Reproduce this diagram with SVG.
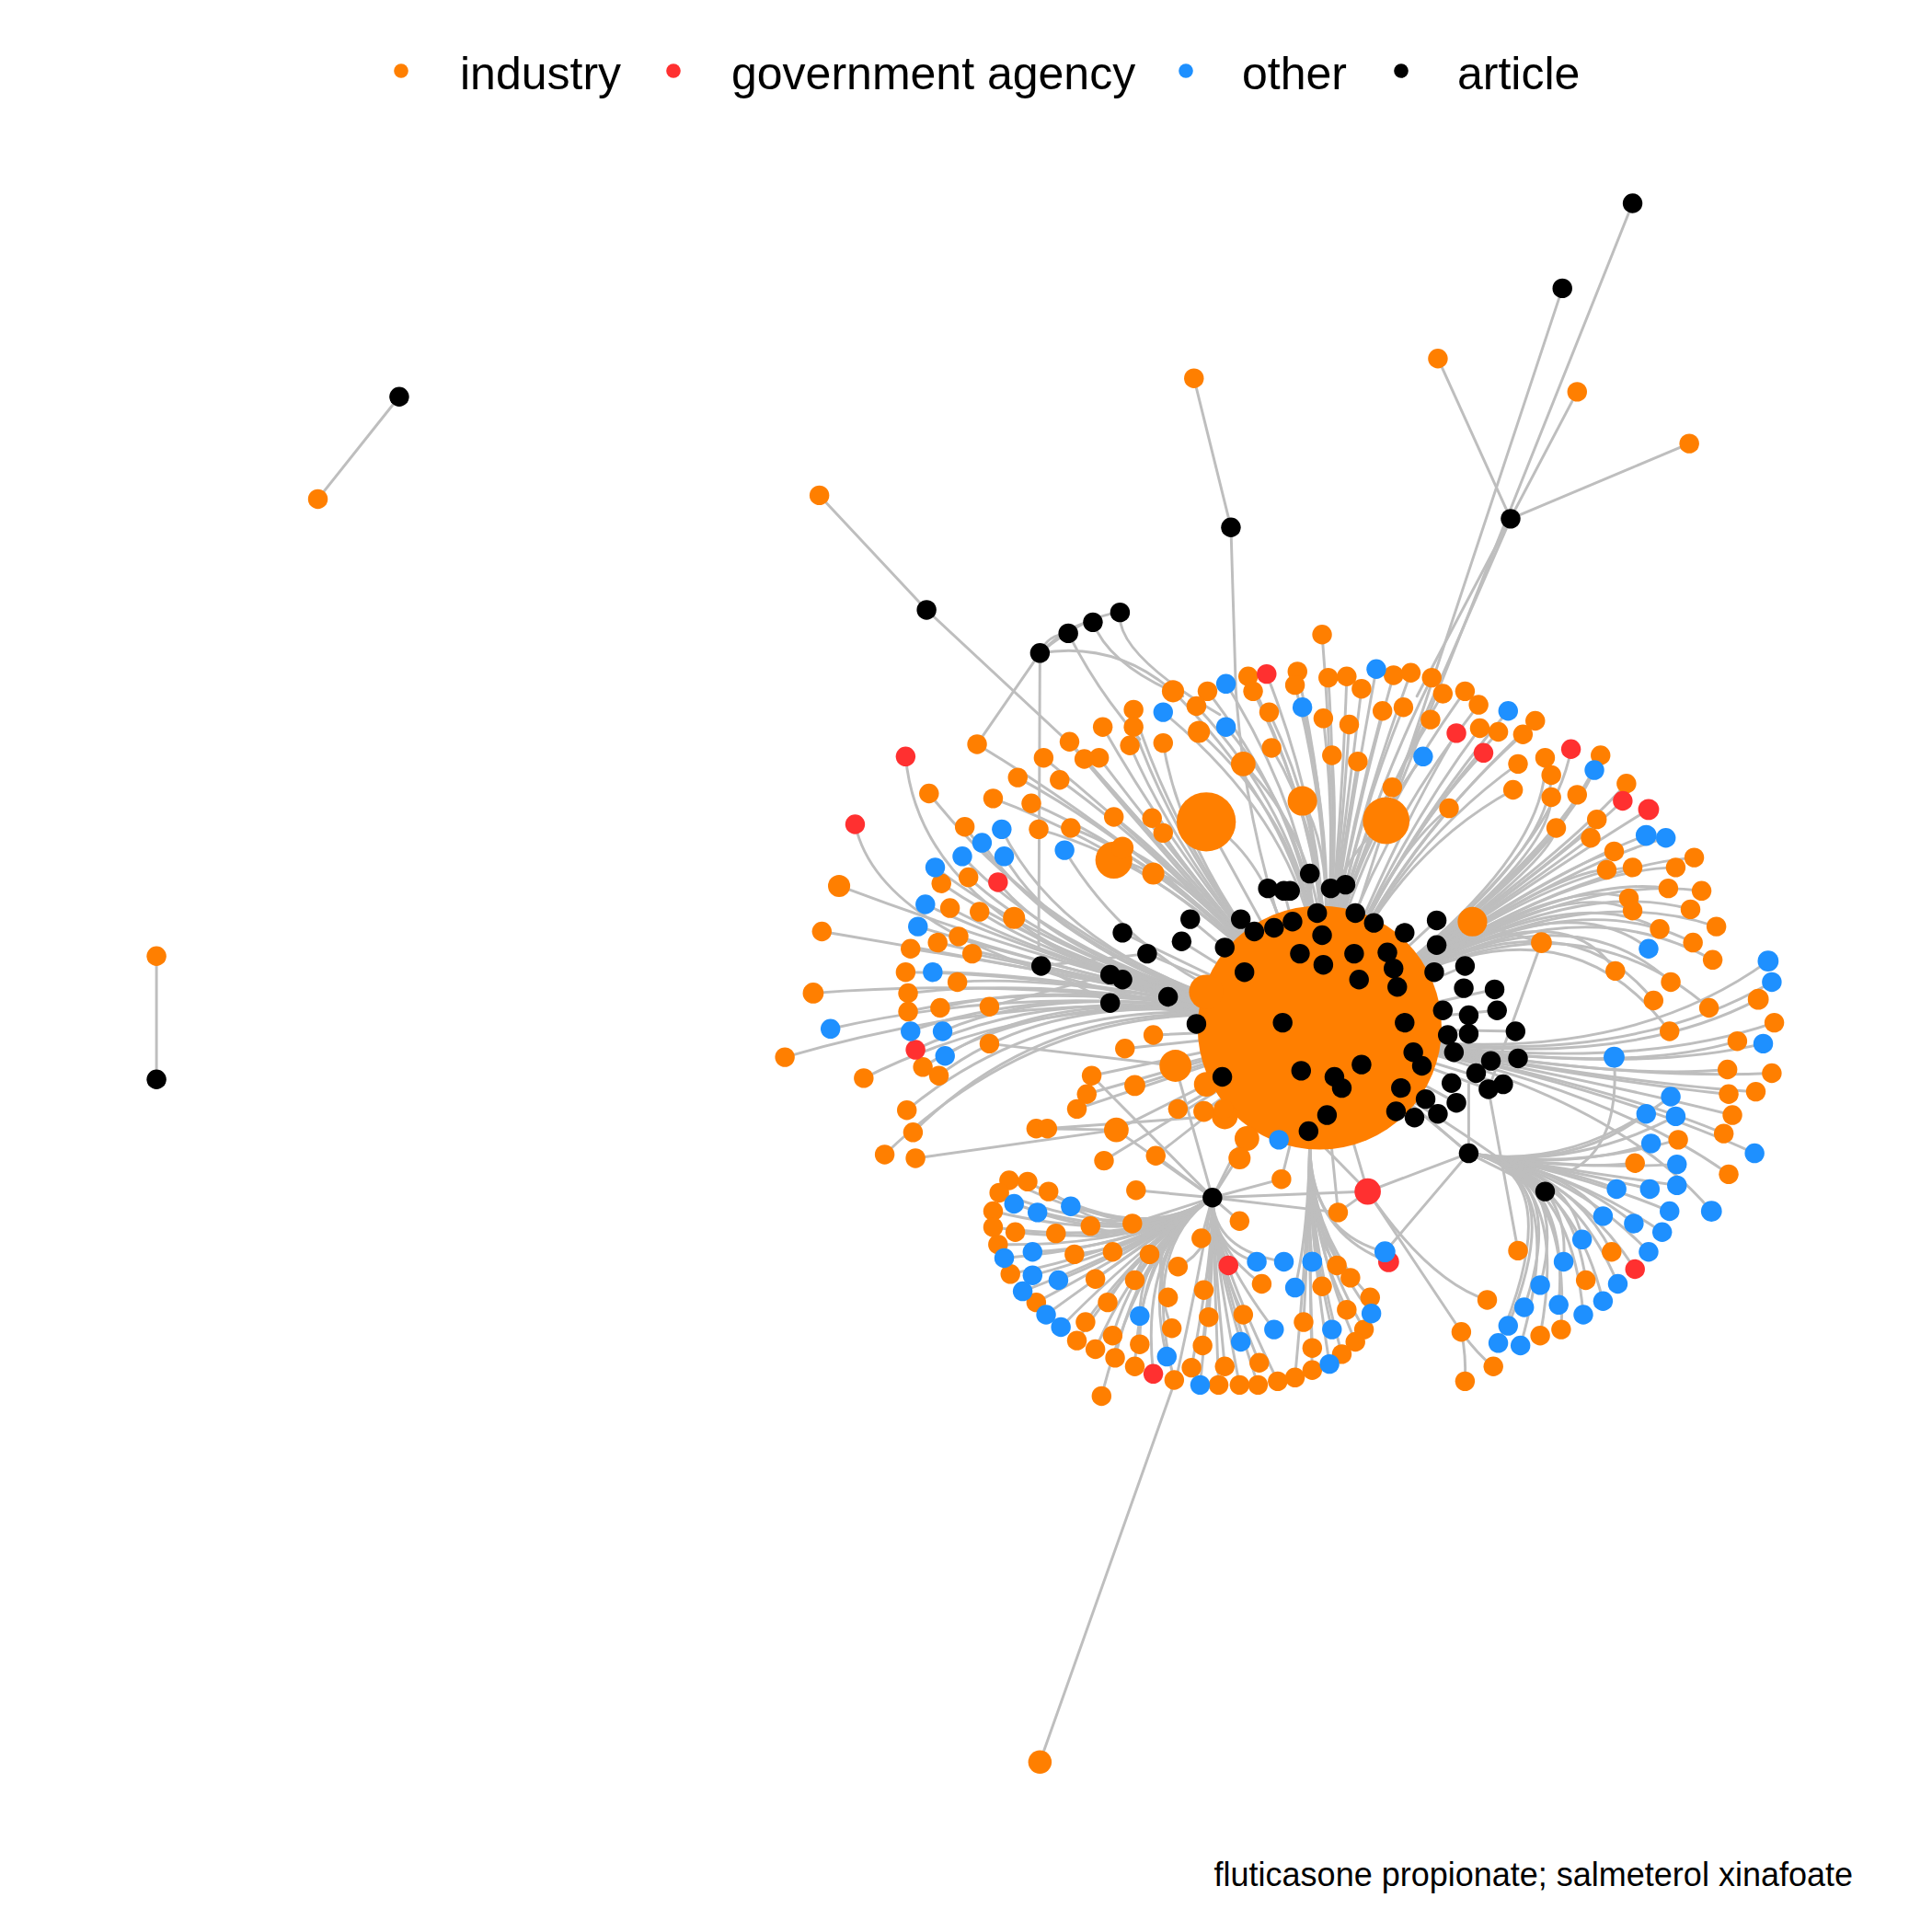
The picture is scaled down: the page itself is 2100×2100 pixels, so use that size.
<svg xmlns="http://www.w3.org/2000/svg" width="2100" height="2100" viewBox="0 0 2100 2100">
<style>
.o{fill:#FF7F00}.r{fill:#FF3030}.b{fill:#1E90FF}.k{fill:#000}
#edges path{fill:none;stroke:#BEBEBE;stroke-width:2.2;stroke-linecap:round}
.lg{font-family:"Liberation Sans",Arial,sans-serif;font-size:50px;fill:#000}
.cap{font-family:"Liberation Sans",Arial,sans-serif;font-size:36px;fill:#000}
</style>
<rect width="2100" height="2100" fill="#fff"/>
<g id="legend">
<circle class="o" cx="436" cy="77" r="7.8"/><text class="lg" x="500" y="97">industry</text>
<circle class="r" cx="732" cy="77" r="7.8"/><text class="lg" x="795" y="97">government agency</text>
<circle class="b" cx="1289" cy="77" r="7.8"/><text class="lg" x="1350" y="97">other</text>
<circle class="k" cx="1523" cy="77" r="7.8"/><text class="lg" x="1584" y="97">article</text>
</g>
<text class="cap" x="2014" y="2050" text-anchor="end">fluticasone propionate; salmeterol xinafoate</text>
<g transform="scale(1.339286)">
<g id="edges">
<path d="M258 405L324 322"/><path d="M127 776L127 876"/>
<path d="M1325 165L1125 666"/><path d="M1268 234L1125 666"/><path d="M1167 291L1226 421"/><path d="M1371 360L1226 421"/><path d="M1226 421L1135 630"/><path d="M1280 318L1150 565"/>
<path d="M969 307L999 428"/><path d="M999 428L1003 560Q1012 700 1071 834"/>
<path d="M665 402L752 495"/><path d="M752 495L870 605Q950 700 1071 834"/>
<path d="M844 530Q850 515 867 514"/><path d="M844 530Q870 505 887 505"/><path d="M844 530Q880 500 909 497"/><path d="M844 530L843 770"/><path d="M844 530L793 604"/><path d="M844 530Q905 520 952 561"/><path d="M887 505Q900 540 960 565"/><path d="M909 497Q905 530 990 580"/><path d="M867 514Q890 560 925 600"/>
<path d="M844 1430L955 1117Q972 1040 984 972"/>
<path d="M1073 515Q1088 700 1071 834"/><path d="M1053 545Q1088 700 1071 834"/><path d="M1078 550Q1088 700 1071 834"/><path d="M1093 549Q1088 700 1071 834"/><path d="M1105 559Q1088 700 1071 834"/><path d="M1131 548Q1088 700 1071 834"/><path d="M1145 546Q1088 700 1071 834"/><path d="M1162 550Q1088 700 1071 834"/><path d="M1171 563Q1088 700 1071 834"/><path d="M1189 561Q1088 700 1071 834"/><path d="M1200 572Q1100 700 1071 834"/><path d="M1074 583Q1088 700 1071 834"/><path d="M1095 588Q1088 700 1071 834"/><path d="M1081 613Q1088 700 1071 834"/><path d="M1102 618Q1088 700 1071 834"/><path d="M1122 577Q1088 700 1071 834"/><path d="M1139 574Q1088 700 1071 834"/><path d="M1161 584Q1088 700 1071 834"/><path d="M1051 556Q1088 700 1071 834"/><path d="M1013 549Q1088 700 1071 834"/><path d="M1017 561Q1088 700 1071 834"/><path d="M1030 578Q1088 700 1071 834"/><path d="M1032 607Q1088 700 1071 834"/><path d="M1009 620Q1088 700 1071 834"/><path d="M952 561Q1080 690 1071 834"/><path d="M980 561Q1080 690 1071 834"/><path d="M971 573Q1080 690 1071 834"/><path d="M973 594Q1080 690 1071 834"/><path d="M1028 547Q1088 700 1071 834"/><path d="M1117 543Q1088 700 1071 834"/><path d="M1057 574Q1088 700 1071 834"/><path d="M1155 614Q1088 700 1071 834"/><path d="M995 555Q1080 690 1071 834"/><path d="M995 590Q1080 690 1071 834"/><path d="M944 578Q1080 690 1071 834"/><path d="M1130 639Q1088 700 1071 834"/><path d="M1057 650Q1088 700 1071 834"/><path d="M979 667L1071 834"/><path d="M1125 666L1071 834"/><path d="M1125 666Q1060 720 1071 834"/><path d="M979 667Q1040 700 1060 834"/>
<path d="M1246 585Q1120 700 1071 834"/><path d="M1236 596Q1120 700 1071 834"/><path d="M1216 594Q1120 700 1071 834"/><path d="M1201 591Q1120 700 1071 834"/><path d="M1182 595Q1120 700 1071 834"/><path d="M1204 611Q1120 700 1071 834"/><path d="M1224 577Q1120 700 1071 834"/><path d="M1232 620Q1120 700 1071 834"/><path d="M1228 641Q1120 700 1071 834"/><path d="M1176 656Q1120 700 1071 834"/>
<path d="M1299 613Q1258 706 1071 834"/><path d="M1254 615Q1258 706 1071 834"/><path d="M1259 629Q1258 706 1071 834"/><path d="M1259 647Q1258 706 1071 834"/><path d="M1280 645Q1258 706 1071 834"/><path d="M1263 672Q1258 706 1071 834"/><path d="M1320 636Q1258 706 1071 834"/><path d="M1296 665Q1258 706 1071 834"/><path d="M1291 680Q1258 706 1071 834"/><path d="M1310 691Q1258 706 1071 834"/><path d="M1375 696Q1258 706 1071 834"/><path d="M1360 704Q1258 706 1071 834"/><path d="M1325 704Q1258 706 1071 834"/><path d="M1304 706Q1258 706 1071 834"/><path d="M1354 721Q1258 706 1071 834"/><path d="M1381 723Q1258 706 1071 834"/><path d="M1322 729Q1258 706 1071 834"/><path d="M1325 739Q1258 706 1071 834"/><path d="M1372 738Q1258 706 1071 834"/><path d="M1393 752Q1258 706 1071 834"/><path d="M1347 754Q1258 706 1071 834"/><path d="M1374 765Q1258 706 1071 834"/><path d="M1390 779Q1258 706 1071 834"/><path d="M1311 788Q1258 706 1071 834"/><path d="M1356 797Q1258 706 1071 834"/><path d="M1342 812Q1258 706 1071 834"/><path d="M1387 818Q1258 706 1071 834"/><path d="M1355 837Q1258 706 1071 834"/><path d="M1275 608Q1258 706 1071 834"/><path d="M1317 650Q1258 706 1071 834"/><path d="M1338 657Q1258 706 1071 834"/><path d="M1294 625Q1258 706 1071 834"/><path d="M1336 678Q1258 706 1071 834"/><path d="M1352 680Q1258 706 1071 834"/><path d="M1338 770Q1258 706 1071 834"/><path d="M1195 748L1071 834"/><path d="M1195 748L1251 765"/><path d="M1251 765L1208 884"/>
<path d="M1427 811Q1300 878 1071 834"/><path d="M1440 830Q1300 878 1071 834"/><path d="M1410 845Q1300 878 1071 834"/><path d="M1402 868Q1300 878 1071 834"/><path d="M1438 871Q1300 878 1071 834"/><path d="M1425 886Q1300 878 1071 834"/><path d="M1403 888Q1300 878 1071 834"/><path d="M1406 905Q1300 878 1071 834"/><path d="M1399 920Q1300 878 1071 834"/><path d="M1403 953Q1300 878 1071 834"/><path d="M1435 780Q1300 878 1071 834"/><path d="M1438 797Q1300 878 1071 834"/><path d="M1431 847Q1300 878 1071 834"/><path d="M1424 936Q1300 878 1071 834"/><path d="M1389 983Q1300 878 1071 834"/>
<path d="M1356 890Q1275 950 1192 936"/><path d="M1336 904Q1275 950 1192 936"/><path d="M1360 906Q1275 950 1192 936"/><path d="M1340 928Q1275 950 1192 936"/><path d="M1362 925Q1275 950 1192 936"/><path d="M1327 944Q1275 950 1192 936"/><path d="M1361 945Q1275 950 1192 936"/><path d="M1312 965Q1275 950 1192 936"/><path d="M1339 965Q1275 950 1192 936"/><path d="M1361 962Q1275 950 1192 936"/><path d="M1355 983Q1275 950 1192 936"/><path d="M1301 987Q1275 950 1192 936"/><path d="M1326 993Q1275 950 1192 936"/><path d="M1349 1000Q1275 950 1192 936"/><path d="M1284 1006Q1275 950 1192 936"/><path d="M1308 1016Q1275 950 1192 936"/><path d="M1338 1016Q1275 950 1192 936"/><path d="M1269 1024Q1275 950 1192 936"/><path d="M1327 1030Q1275 950 1192 936"/><path d="M1250 1043Q1275 950 1192 936"/><path d="M1287 1039Q1275 950 1192 936"/><path d="M1313 1042Q1275 950 1192 936"/><path d="M1237 1061Q1275 950 1192 936"/><path d="M1265 1059Q1275 950 1192 936"/><path d="M1301 1056Q1275 950 1192 936"/><path d="M1224 1076Q1275 950 1192 936"/><path d="M1285 1067Q1275 950 1192 936"/><path d="M1267 1079Q1275 950 1192 936"/><path d="M1250 1084Q1275 950 1192 936"/><path d="M1216 1090Q1275 950 1192 936"/><path d="M1234 1092Q1275 950 1192 936"/><path d="M1310 858Q1315 930 1275 950"/><path d="M1192 936L1071 834"/><path d="M1192 936Q1150 900 1071 834"/>
<path d="M681 719Q870 790 1071 834"/><path d="M667 756Q870 790 1071 834"/><path d="M660 806Q870 790 1071 834"/><path d="M637 858Q870 790 1071 834"/><path d="M701 875Q870 790 1071 834"/><path d="M754 644Q870 790 1071 834"/><path d="M783 671Q870 790 1071 834"/><path d="M764 717Q870 790 1071 834"/><path d="M786 712Q870 790 1071 834"/><path d="M771 737Q870 790 1071 834"/><path d="M795 740Q870 790 1071 834"/><path d="M823 745Q870 790 1071 834"/><path d="M778 760Q870 790 1071 834"/><path d="M761 765Q870 790 1071 834"/><path d="M739 770Q870 790 1071 834"/><path d="M789 774Q870 790 1071 834"/><path d="M735 789Q870 790 1071 834"/><path d="M777 797Q870 790 1071 834"/><path d="M737 806Q870 790 1071 834"/><path d="M763 818Q870 790 1071 834"/><path d="M737 821Q870 790 1071 834"/><path d="M749 866Q870 790 1071 834"/><path d="M762 873Q870 790 1071 834"/><path d="M736 901Q870 790 1071 834"/><path d="M741 919Q870 790 1071 834"/><path d="M718 937Q870 790 1071 834"/><path d="M735 614Q750 780 1071 834"/><path d="M694 669Q720 790 1071 834"/><path d="M810 716Q870 790 1071 834"/><path d="M743 852Q870 790 1071 834"/><path d="M759 704Q870 790 1071 834"/><path d="M781 695Q870 790 1071 834"/><path d="M797 684Q870 790 1071 834"/><path d="M813 673Q870 790 1071 834"/><path d="M815 695Q870 790 1071 834"/><path d="M751 734Q870 790 1071 834"/><path d="M745 752Q870 790 1071 834"/><path d="M757 789Q870 790 1071 834"/><path d="M739 837Q870 790 1071 834"/><path d="M765 837Q870 790 1071 834"/><path d="M767 857Q870 790 1071 834"/><path d="M674 835Q870 790 1071 834"/>
<path d="M793 604Q960 705 1071 834"/><path d="M806 648Q960 705 1071 834"/><path d="M826 631Q960 705 1071 834"/><path d="M837 652Q960 705 1071 834"/><path d="M847 615Q960 705 1071 834"/><path d="M860 633Q960 705 1071 834"/><path d="M868 602Q960 705 1071 834"/><path d="M880 616Q960 705 1071 834"/><path d="M892 615Q960 705 1071 834"/><path d="M895 590Q960 705 1071 834"/><path d="M920 576Q960 705 1071 834"/><path d="M920 590Q960 705 1071 834"/><path d="M917 605Q960 705 1071 834"/><path d="M944 603Q960 705 1071 834"/><path d="M843 673Q960 705 1071 834"/><path d="M869 672Q960 705 1071 834"/><path d="M904 663Q960 705 1071 834"/><path d="M935 664Q960 705 1071 834"/><path d="M944 676Q960 705 1071 834"/><path d="M864 690Q930 800 1071 834"/><path d="M911 688Q960 705 1071 834"/><path d="M904 698Q960 705 1071 834"/><path d="M936 709Q960 705 1071 834"/>
<path d="M936 840L1071 834"/><path d="M913 851L1071 834"/><path d="M921 881L1071 834"/><path d="M886 873L1071 834"/><path d="M882 888L1071 834"/><path d="M874 900L1071 834"/><path d="M956 900L1071 834"/><path d="M977 902L1071 834"/><path d="M993 900L1071 834"/><path d="M906 917L1071 834"/><path d="M896 942L1071 834"/><path d="M938 938L1071 834"/><path d="M954 865L1071 834"/><path d="M922 966L984 972"/><path d="M1007 932L1071 834"/><path d="M1040 957L1071 834"/><path d="M1086 984L1071 834"/><path d="M1006 991L984 972"/><path d="M975 1005L984 972"/><path d="M919 993L984 972"/><path d="M803 817L901 791"/><path d="M803 847L954 865"/><path d="M743 940L906 917"/><path d="M841 916L906 917"/><path d="M849 916L1000 905"/><path d="M886 873L984 972"/><path d="M906 917L984 972"/><path d="M938 938L984 972"/><path d="M954 865L984 972"/><path d="M1040 957L984 972"/><path d="M984 972L1071 834"/><path d="M984 972L1040 860"/><path d="M984 972L1110 967"/><path d="M984 972L1086 984"/><path d="M1110 967L1071 834"/><path d="M1110 967L1192 936"/><path d="M1110 967L1186 1081"/><path d="M1186 1081Q1200 1100 1212 1109"/><path d="M1186 1081Q1190 1100 1189 1121"/><path d="M1110 967Q1160 1040 1207 1055"/><path d="M1232 1015L1208 884"/><path d="M1254 967L1192 936"/><path d="M1254 967Q1190 920 1140 890"/><path d="M1192 936L1124 1016"/><path d="M1192 936L1192 880"/><path d="M1086 984L1110 967"/><path d="M1038 925L1071 834"/><path d="M1062 918L1110 967"/>
<path d="M845 784L1071 834"/><path d="M911 757L1071 834"/><path d="M931 774L1071 834"/><path d="M959 764L1071 834"/><path d="M966 746L1071 834"/><path d="M901 791L1071 834"/><path d="M911 795L1071 834"/><path d="M901 814L1071 834"/><path d="M948 809L1071 834"/><path d="M1007 746L1071 834"/><path d="M1029 721L1071 834"/><path d="M1042 723L1071 834"/><path d="M1063 709L1071 834"/><path d="M1080 721L1071 834"/><path d="M1092 718L1071 834"/><path d="M1166 747L1071 834"/><path d="M1189 784L1071 834"/><path d="M1213 803L1071 834"/><path d="M1215 820L1071 834"/><path d="M1230 837L1071 834"/><path d="M1232 859L1071 834"/><path d="M1220 880L1071 834"/><path d="M1208 884L1071 834"/><path d="M1182 895L1071 834"/><path d="M1167 904L1071 834"/><path d="M1148 907L1071 834"/><path d="M1133 902L1071 834"/><path d="M845 784L931 774"/><path d="M845 784L901 814"/>
<path d="M819 958Q925 1012 984 972"/><path d="M834 959Q925 1012 984 972"/><path d="M851 967Q925 1012 984 972"/><path d="M811 968Q925 1012 984 972"/><path d="M885 995Q925 1012 984 972"/><path d="M806 983Q925 1012 984 972"/><path d="M806 996Q925 1012 984 972"/><path d="M824 1000Q925 1012 984 972"/><path d="M857 1001Q925 1012 984 972"/><path d="M810 1010Q925 1012 984 972"/><path d="M872 1018Q925 1012 984 972"/><path d="M903 1016Q925 1012 984 972"/><path d="M933 1018Q925 1012 984 972"/><path d="M820 1034Q925 1012 984 972"/><path d="M889 1038Q925 1012 984 972"/><path d="M921 1039Q925 1012 984 972"/><path d="M841 1057Q925 1012 984 972"/><path d="M899 1057Q925 1012 984 972"/><path d="M881 1073Q925 1012 984 972"/><path d="M903 1084Q925 1012 984 972"/><path d="M925 1091Q925 1012 984 972"/><path d="M874 1088Q925 1012 984 972"/><path d="M889 1095Q925 1012 984 972"/><path d="M905 1102Q925 1012 984 972"/><path d="M921 1109Q925 1012 984 972"/><path d="M894 1133Q925 1012 984 972"/><path d="M823 977Q925 1012 984 972"/><path d="M842 984Q925 1012 984 972"/><path d="M869 979Q925 1012 984 972"/><path d="M815 1021Q925 1012 984 972"/><path d="M838 1016Q925 1012 984 972"/><path d="M838 1035Q925 1012 984 972"/><path d="M859 1039Q925 1012 984 972"/><path d="M830 1048Q925 1012 984 972"/><path d="M849 1067Q925 1012 984 972"/><path d="M861 1077Q925 1012 984 972"/><path d="M925 1068Q925 1012 984 972"/><path d="M947 1101Q925 1012 984 972"/><path d="M936 1115Q925 1012 984 972"/><path d="M948 1053Q925 1012 984 972"/><path d="M951 1078Q925 1012 984 972"/><path d="M953 1120Q925 1012 984 972"/>
<path d="M956 1028Q985 1015 984 972"/><path d="M977 1047Q985 1015 984 972"/><path d="M981 1069Q985 1015 984 972"/><path d="M967 1110Q985 1015 984 972"/><path d="M976 1092Q985 1015 984 972"/><path d="M994 1109Q985 1015 984 972"/><path d="M989 1124Q985 1015 984 972"/><path d="M1006 1124Q985 1015 984 972"/><path d="M1021 1124Q985 1015 984 972"/><path d="M1037 1121Q985 1015 984 972"/><path d="M1022 1106Q985 1015 984 972"/><path d="M1009 1067Q985 1015 984 972"/><path d="M1024 1042Q985 1015 984 972"/><path d="M974 1124Q985 1015 984 972"/><path d="M1007 1089Q985 1015 984 972"/><path d="M1034 1079Q985 1015 984 972"/><path d="M997 1027Q985 1015 984 972"/><path d="M1020 1024Q985 1015 984 972"/><path d="M1042 1024Q985 1015 984 972"/>
<path d="M1065 1024Q1062 1000 1063 925"/><path d="M1085 1027Q1062 1000 1063 925"/><path d="M1096 1037Q1062 1000 1063 925"/><path d="M1073 1044Q1062 1000 1063 925"/><path d="M1051 1045Q1062 1000 1063 925"/><path d="M1112 1053Q1062 1000 1063 925"/><path d="M1113 1066Q1062 1000 1063 925"/><path d="M1093 1063Q1062 1000 1063 925"/><path d="M1058 1073Q1062 1000 1063 925"/><path d="M1081 1079Q1062 1000 1063 925"/><path d="M1107 1079Q1062 1000 1063 925"/><path d="M1100 1089Q1062 1000 1063 925"/><path d="M1065 1094Q1062 1000 1063 925"/><path d="M1089 1099Q1062 1000 1063 925"/><path d="M1079 1107Q1062 1000 1063 925"/><path d="M1065 1112Q1062 1000 1063 925"/><path d="M1051 1118Q1062 1000 1063 925"/><path d="M1124 1016Q1062 1000 1063 925"/><path d="M1127 1024Q1062 1000 1063 925"/>
</g>
<g id="nodes">
<g id="n1"><circle class="o" cx="1071" cy="834" r="99"/></g>
<g id="n2"><circle class="o" cx="979" cy="805" r="14"/></g>
<g id="n3"><circle class="o" cx="979" cy="667" r="24"/></g>
<g id="n4"><circle class="o" cx="1125" cy="666" r="19"/></g>
<g id="n5"><circle class="o" cx="1057" cy="650" r="12"/></g>
<g id="n6"><circle class="o" cx="904" cy="698" r="15"/></g>
<g id="n7"><circle class="o" cx="954" cy="865" r="13"/></g>
<g id="n8"><circle class="o" cx="1195" cy="748" r="12"/></g>
<g id="n9"><circle class="o" cx="979" cy="880" r="10"/></g>
<g id="n10"><circle class="o" cx="994" cy="906" r="10.5"/></g>
<g id="n11"><circle class="o" cx="1012" cy="924" r="10"/></g>
<g id="n12"><circle class="o" cx="1006" cy="940" r="9"/></g>
<g id="n13"><circle class="o" cx="906" cy="917" r="10"/></g>
<g id="n14"><circle class="o" cx="1009" cy="620" r="10"/></g>
<g id="n15"><circle class="o" cx="952" cy="561" r="9"/></g>
<g id="n16"><circle class="o" cx="973" cy="594" r="9"/></g>
<g id="n17"><circle class="o" cx="936" cy="709" r="9"/></g>
<g id="n18"><circle class="o" cx="911" cy="688" r="9"/></g>
<g id="n19"><circle class="o" cx="681" cy="719" r="9"/></g>
<g id="n20"><circle class="o" cx="823" cy="745" r="9"/></g>
<g id="n21"><circle class="o" cx="844" cy="1430" r="9.5"/></g>
<g id="n22"><circle class="o" cx="1073" cy="515" r="8"/></g>
<g id="n23"><circle class="o" cx="1053" cy="545" r="8"/></g>
<g id="n24"><circle class="o" cx="1078" cy="550" r="8"/></g>
<g id="n25"><circle class="o" cx="1093" cy="549" r="8"/></g>
<g id="n26"><circle class="o" cx="1105" cy="559" r="8"/></g>
<g id="n27"><circle class="o" cx="1131" cy="548" r="8"/></g>
<g id="n28"><circle class="o" cx="1145" cy="546" r="8"/></g>
<g id="n29"><circle class="o" cx="1162" cy="550" r="8"/></g>
<g id="n30"><circle class="o" cx="1171" cy="563" r="8"/></g>
<g id="n31"><circle class="o" cx="1189" cy="561" r="8"/></g>
<g id="n32"><circle class="o" cx="1200" cy="572" r="8"/></g>
<g id="n33"><circle class="o" cx="1246" cy="585" r="8"/></g>
<g id="n34"><circle class="o" cx="1236" cy="596" r="8"/></g>
<g id="n35"><circle class="o" cx="1216" cy="594" r="8"/></g>
<g id="n36"><circle class="o" cx="1201" cy="591" r="8"/></g>
<g id="n37"><circle class="o" cx="1299" cy="613" r="8"/></g>
<g id="n38"><circle class="o" cx="1254" cy="615" r="8"/></g>
<g id="n39"><circle class="o" cx="1259" cy="629" r="8"/></g>
<g id="n40"><circle class="o" cx="1232" cy="620" r="8"/></g>
<g id="n41"><circle class="o" cx="1228" cy="641" r="8"/></g>
<g id="n42"><circle class="o" cx="1259" cy="647" r="8"/></g>
<g id="n43"><circle class="o" cx="1280" cy="645" r="8"/></g>
<g id="n44"><circle class="o" cx="1263" cy="672" r="8"/></g>
<g id="n45"><circle class="o" cx="1320" cy="636" r="8"/></g>
<g id="n46"><circle class="o" cx="1296" cy="665" r="8"/></g>
<g id="n47"><circle class="o" cx="1291" cy="680" r="8"/></g>
<g id="n48"><circle class="o" cx="1310" cy="691" r="8"/></g>
<g id="n49"><circle class="o" cx="1375" cy="696" r="8"/></g>
<g id="n50"><circle class="o" cx="1360" cy="704" r="8"/></g>
<g id="n51"><circle class="o" cx="1325" cy="704" r="8"/></g>
<g id="n52"><circle class="o" cx="1304" cy="706" r="8"/></g>
<g id="n53"><circle class="o" cx="1354" cy="721" r="8"/></g>
<g id="n54"><circle class="o" cx="1381" cy="723" r="8"/></g>
<g id="n55"><circle class="o" cx="1322" cy="729" r="8"/></g>
<g id="n56"><circle class="o" cx="1325" cy="739" r="8"/></g>
<g id="n57"><circle class="o" cx="1372" cy="738" r="8"/></g>
<g id="n58"><circle class="o" cx="1393" cy="752" r="8"/></g>
<g id="n59"><circle class="o" cx="1347" cy="754" r="8"/></g>
<g id="n60"><circle class="o" cx="1374" cy="765" r="8"/></g>
<g id="n61"><circle class="o" cx="1390" cy="779" r="8"/></g>
<g id="n62"><circle class="o" cx="1311" cy="788" r="8"/></g>
<g id="n63"><circle class="o" cx="1356" cy="797" r="8"/></g>
<g id="n64"><circle class="o" cx="1342" cy="812" r="8"/></g>
<g id="n65"><circle class="o" cx="1387" cy="818" r="8"/></g>
<g id="n66"><circle class="o" cx="1355" cy="837" r="8"/></g>
<g id="n67"><circle class="o" cx="1427" cy="811" r="8.5"/></g>
<g id="n68"><circle class="o" cx="1440" cy="830" r="8"/></g>
<g id="n69"><circle class="o" cx="1410" cy="845" r="8"/></g>
<g id="n70"><circle class="o" cx="1402" cy="868" r="8"/></g>
<g id="n71"><circle class="o" cx="1438" cy="871" r="8"/></g>
<g id="n72"><circle class="o" cx="1425" cy="886" r="8"/></g>
<g id="n73"><circle class="o" cx="1403" cy="888" r="8"/></g>
<g id="n74"><circle class="o" cx="1406" cy="905" r="8"/></g>
<g id="n75"><circle class="o" cx="1399" cy="920" r="8"/></g>
<g id="n76"><circle class="o" cx="1403" cy="953" r="8"/></g>
<g id="n77"><circle class="o" cx="1362" cy="925" r="8"/></g>
<g id="n78"><circle class="o" cx="1327" cy="944" r="8"/></g>
<g id="n79"><circle class="o" cx="1251" cy="765" r="8.5"/></g>
<g id="n80"><circle class="o" cx="1130" cy="639" r="8"/></g>
<g id="n81"><circle class="o" cx="1074" cy="583" r="8"/></g>
<g id="n82"><circle class="o" cx="1095" cy="588" r="8"/></g>
<g id="n83"><circle class="o" cx="1081" cy="613" r="8"/></g>
<g id="n84"><circle class="o" cx="1102" cy="618" r="8"/></g>
<g id="n85"><circle class="o" cx="1122" cy="577" r="8"/></g>
<g id="n86"><circle class="o" cx="1139" cy="574" r="8"/></g>
<g id="n87"><circle class="o" cx="1161" cy="584" r="8"/></g>
<g id="n88"><circle class="o" cx="1051" cy="556" r="8"/></g>
<g id="n89"><circle class="o" cx="1176" cy="656" r="8"/></g>
<g id="n90"><circle class="o" cx="1013" cy="549" r="8"/></g>
<g id="n91"><circle class="o" cx="1017" cy="561" r="8"/></g>
<g id="n92"><circle class="o" cx="1030" cy="578" r="8"/></g>
<g id="n93"><circle class="o" cx="1032" cy="607" r="8"/></g>
<g id="n94"><circle class="o" cx="980" cy="561" r="8"/></g>
<g id="n95"><circle class="o" cx="971" cy="573" r="8"/></g>
<g id="n96"><circle class="o" cx="920" cy="576" r="8"/></g>
<g id="n97"><circle class="o" cx="920" cy="590" r="8"/></g>
<g id="n98"><circle class="o" cx="917" cy="605" r="8"/></g>
<g id="n99"><circle class="o" cx="944" cy="603" r="8"/></g>
<g id="n100"><circle class="o" cx="895" cy="590" r="8"/></g>
<g id="n101"><circle class="o" cx="892" cy="615" r="8"/></g>
<g id="n102"><circle class="o" cx="880" cy="616" r="8"/></g>
<g id="n103"><circle class="o" cx="868" cy="602" r="8"/></g>
<g id="n104"><circle class="o" cx="847" cy="615" r="8"/></g>
<g id="n105"><circle class="o" cx="860" cy="633" r="8"/></g>
<g id="n106"><circle class="o" cx="826" cy="631" r="8"/></g>
<g id="n107"><circle class="o" cx="793" cy="604" r="8"/></g>
<g id="n108"><circle class="o" cx="806" cy="648" r="8"/></g>
<g id="n109"><circle class="o" cx="837" cy="652" r="8"/></g>
<g id="n110"><circle class="o" cx="843" cy="673" r="8"/></g>
<g id="n111"><circle class="o" cx="869" cy="672" r="8"/></g>
<g id="n112"><circle class="o" cx="904" cy="663" r="8"/></g>
<g id="n113"><circle class="o" cx="935" cy="664" r="8"/></g>
<g id="n114"><circle class="o" cx="944" cy="676" r="8"/></g>
<g id="n115"><circle class="o" cx="969" cy="307" r="8"/></g>
<g id="n116"><circle class="o" cx="665" cy="402" r="8"/></g>
<g id="n117"><circle class="o" cx="1167" cy="291" r="8"/></g>
<g id="n118"><circle class="o" cx="1280" cy="318" r="8"/></g>
<g id="n119"><circle class="o" cx="1371" cy="360" r="8"/></g>
<g id="n120"><circle class="o" cx="667" cy="756" r="8"/></g>
<g id="n121"><circle class="o" cx="660" cy="806" r="8.5"/></g>
<g id="n122"><circle class="o" cx="637" cy="858" r="8"/></g>
<g id="n123"><circle class="o" cx="701" cy="875" r="8"/></g>
<g id="n124"><circle class="o" cx="754" cy="644" r="8"/></g>
<g id="n125"><circle class="o" cx="783" cy="671" r="8"/></g>
<g id="n126"><circle class="o" cx="764" cy="717" r="8"/></g>
<g id="n127"><circle class="o" cx="786" cy="712" r="8"/></g>
<g id="n128"><circle class="o" cx="771" cy="737" r="8"/></g>
<g id="n129"><circle class="o" cx="795" cy="740" r="8"/></g>
<g id="n130"><circle class="o" cx="778" cy="760" r="8"/></g>
<g id="n131"><circle class="o" cx="761" cy="765" r="8"/></g>
<g id="n132"><circle class="o" cx="739" cy="770" r="8"/></g>
<g id="n133"><circle class="o" cx="789" cy="774" r="8"/></g>
<g id="n134"><circle class="o" cx="735" cy="789" r="8"/></g>
<g id="n135"><circle class="o" cx="777" cy="797" r="8"/></g>
<g id="n136"><circle class="o" cx="737" cy="806" r="8"/></g>
<g id="n137"><circle class="o" cx="763" cy="818" r="8"/></g>
<g id="n138"><circle class="o" cx="737" cy="821" r="8"/></g>
<g id="n139"><circle class="o" cx="749" cy="866" r="8"/></g>
<g id="n140"><circle class="o" cx="762" cy="873" r="8"/></g>
<g id="n141"><circle class="o" cx="736" cy="901" r="8"/></g>
<g id="n142"><circle class="o" cx="741" cy="919" r="8"/></g>
<g id="n143"><circle class="o" cx="718" cy="937" r="8"/></g>
<g id="n144"><circle class="o" cx="743" cy="940" r="8"/></g>
<g id="n145"><circle class="o" cx="803" cy="817" r="8"/></g>
<g id="n146"><circle class="o" cx="803" cy="847" r="8"/></g>
<g id="n147"><circle class="o" cx="841" cy="916" r="8"/></g>
<g id="n148"><circle class="o" cx="850" cy="916" r="8"/></g>
<g id="n149"><circle class="o" cx="936" cy="840" r="8"/></g>
<g id="n150"><circle class="o" cx="913" cy="851" r="8"/></g>
<g id="n151"><circle class="o" cx="921" cy="881" r="8.5"/></g>
<g id="n152"><circle class="o" cx="886" cy="873" r="8"/></g>
<g id="n153"><circle class="o" cx="882" cy="888" r="8"/></g>
<g id="n154"><circle class="o" cx="874" cy="900" r="8"/></g>
<g id="n155"><circle class="o" cx="956" cy="900" r="8"/></g>
<g id="n156"><circle class="o" cx="977" cy="902" r="8.5"/></g>
<g id="n157"><circle class="o" cx="896" cy="942" r="8"/></g>
<g id="n158"><circle class="o" cx="938" cy="938" r="8"/></g>
<g id="n159"><circle class="o" cx="922" cy="966" r="8"/></g>
<g id="n160"><circle class="o" cx="1040" cy="957" r="8"/></g>
<g id="n161"><circle class="o" cx="1086" cy="984" r="8"/></g>
<g id="n162"><circle class="o" cx="1006" cy="991" r="8"/></g>
<g id="n163"><circle class="o" cx="975" cy="1005" r="8"/></g>
<g id="n164"><circle class="o" cx="919" cy="993" r="8"/></g>
<g id="n165"><circle class="o" cx="819" cy="958" r="8"/></g>
<g id="n166"><circle class="o" cx="834" cy="959" r="8"/></g>
<g id="n167"><circle class="o" cx="851" cy="967" r="8"/></g>
<g id="n168"><circle class="o" cx="811" cy="968" r="8"/></g>
<g id="n169"><circle class="o" cx="885" cy="995" r="8"/></g>
<g id="n170"><circle class="o" cx="806" cy="983" r="8"/></g>
<g id="n171"><circle class="o" cx="806" cy="996" r="8"/></g>
<g id="n172"><circle class="o" cx="824" cy="1000" r="8"/></g>
<g id="n173"><circle class="o" cx="857" cy="1001" r="8"/></g>
<g id="n174"><circle class="o" cx="810" cy="1010" r="8"/></g>
<g id="n175"><circle class="o" cx="872" cy="1018" r="8"/></g>
<g id="n176"><circle class="o" cx="903" cy="1016" r="8"/></g>
<g id="n177"><circle class="o" cx="933" cy="1018" r="8"/></g>
<g id="n178"><circle class="o" cx="956" cy="1028" r="8"/></g>
<g id="n179"><circle class="o" cx="820" cy="1034" r="8"/></g>
<g id="n180"><circle class="o" cx="889" cy="1038" r="8"/></g>
<g id="n181"><circle class="o" cx="921" cy="1039" r="8"/></g>
<g id="n182"><circle class="o" cx="841" cy="1057" r="8"/></g>
<g id="n183"><circle class="o" cx="899" cy="1057" r="8"/></g>
<g id="n184"><circle class="o" cx="948" cy="1053" r="8"/></g>
<g id="n185"><circle class="o" cx="977" cy="1047" r="8"/></g>
<g id="n186"><circle class="o" cx="881" cy="1073" r="8"/></g>
<g id="n187"><circle class="o" cx="903" cy="1084" r="8"/></g>
<g id="n188"><circle class="o" cx="925" cy="1091" r="8"/></g>
<g id="n189"><circle class="o" cx="951" cy="1078" r="8"/></g>
<g id="n190"><circle class="o" cx="981" cy="1069" r="8"/></g>
<g id="n191"><circle class="o" cx="874" cy="1088" r="8"/></g>
<g id="n192"><circle class="o" cx="889" cy="1095" r="8"/></g>
<g id="n193"><circle class="o" cx="905" cy="1102" r="8"/></g>
<g id="n194"><circle class="o" cx="921" cy="1109" r="8"/></g>
<g id="n195"><circle class="o" cx="953" cy="1120" r="8"/></g>
<g id="n196"><circle class="o" cx="967" cy="1110" r="8"/></g>
<g id="n197"><circle class="o" cx="976" cy="1092" r="8"/></g>
<g id="n198"><circle class="o" cx="994" cy="1109" r="8"/></g>
<g id="n199"><circle class="o" cx="989" cy="1124" r="8"/></g>
<g id="n200"><circle class="o" cx="1006" cy="1124" r="8"/></g>
<g id="n201"><circle class="o" cx="1021" cy="1124" r="8"/></g>
<g id="n202"><circle class="o" cx="1037" cy="1121" r="8"/></g>
<g id="n203"><circle class="o" cx="1022" cy="1106" r="8"/></g>
<g id="n204"><circle class="o" cx="1009" cy="1067" r="8"/></g>
<g id="n205"><circle class="o" cx="1024" cy="1042" r="8"/></g>
<g id="n206"><circle class="o" cx="894" cy="1133" r="8"/></g>
<g id="n207"><circle class="o" cx="1085" cy="1027" r="8"/></g>
<g id="n208"><circle class="o" cx="1096" cy="1037" r="8"/></g>
<g id="n209"><circle class="o" cx="1073" cy="1044" r="8"/></g>
<g id="n210"><circle class="o" cx="1112" cy="1053" r="8"/></g>
<g id="n211"><circle class="o" cx="1093" cy="1063" r="8"/></g>
<g id="n212"><circle class="o" cx="1058" cy="1073" r="8"/></g>
<g id="n213"><circle class="o" cx="1107" cy="1079" r="8"/></g>
<g id="n214"><circle class="o" cx="1100" cy="1089" r="8"/></g>
<g id="n215"><circle class="o" cx="1065" cy="1094" r="8"/></g>
<g id="n216"><circle class="o" cx="1089" cy="1099" r="8"/></g>
<g id="n217"><circle class="o" cx="1065" cy="1112" r="8"/></g>
<g id="n218"><circle class="o" cx="1051" cy="1118" r="8"/></g>
<g id="n219"><circle class="o" cx="1232" cy="1015" r="8"/></g>
<g id="n220"><circle class="o" cx="1207" cy="1055" r="8"/></g>
<g id="n221"><circle class="o" cx="1186" cy="1081" r="8"/></g>
<g id="n222"><circle class="o" cx="1212" cy="1109" r="8"/></g>
<g id="n223"><circle class="o" cx="1189" cy="1121" r="8"/></g>
<g id="n224"><circle class="o" cx="1308" cy="1016" r="8"/></g>
<g id="n225"><circle class="o" cx="1287" cy="1039" r="8"/></g>
<g id="n226"><circle class="o" cx="1267" cy="1079" r="8"/></g>
<g id="n227"><circle class="o" cx="1250" cy="1084" r="8"/></g>
<g id="n228"><circle class="o" cx="127" cy="776" r="8"/></g>
<g id="n229"><circle class="o" cx="258" cy="405" r="8"/></g>
<g id="n230"><circle class="o" cx="993" cy="900" r="8"/></g>
<g id="n231"><circle class="r" cx="1028" cy="547" r="8"/></g>
<g id="n232"><circle class="r" cx="1182" cy="595" r="8"/></g>
<g id="n233"><circle class="r" cx="1204" cy="611" r="8"/></g>
<g id="n234"><circle class="r" cx="1275" cy="608" r="8"/></g>
<g id="n235"><circle class="r" cx="1317" cy="650" r="8"/></g>
<g id="n236"><circle class="r" cx="1338" cy="657" r="8.5"/></g>
<g id="n237"><circle class="r" cx="735" cy="614" r="8"/></g>
<g id="n238"><circle class="r" cx="694" cy="669" r="8"/></g>
<g id="n239"><circle class="r" cx="810" cy="716" r="8"/></g>
<g id="n240"><circle class="r" cx="743" cy="852" r="8"/></g>
<g id="n241"><circle class="r" cx="997" cy="1027" r="8"/></g>
<g id="n242"><circle class="r" cx="936" cy="1115" r="8"/></g>
<g id="n243"><circle class="r" cx="1127" cy="1024" r="8.5"/></g>
<g id="n244"><circle class="r" cx="1327" cy="1030" r="8"/></g>
<g id="n245"><circle class="r" cx="1110" cy="967" r="10.7"/></g>
<g id="n246"><circle class="b" cx="1117" cy="543" r="8"/></g>
<g id="n247"><circle class="b" cx="1057" cy="574" r="8"/></g>
<g id="n248"><circle class="b" cx="1155" cy="614" r="8"/></g>
<g id="n249"><circle class="b" cx="1224" cy="577" r="8"/></g>
<g id="n250"><circle class="b" cx="1294" cy="625" r="8"/></g>
<g id="n251"><circle class="b" cx="1336" cy="678" r="8.5"/></g>
<g id="n252"><circle class="b" cx="1352" cy="680" r="8"/></g>
<g id="n253"><circle class="b" cx="995" cy="555" r="8"/></g>
<g id="n254"><circle class="b" cx="944" cy="578" r="8"/></g>
<g id="n255"><circle class="b" cx="995" cy="590" r="8"/></g>
<g id="n256"><circle class="b" cx="864" cy="690" r="8"/></g>
<g id="n257"><circle class="b" cx="759" cy="704" r="8"/></g>
<g id="n258"><circle class="b" cx="781" cy="695" r="8"/></g>
<g id="n259"><circle class="b" cx="797" cy="684" r="8"/></g>
<g id="n260"><circle class="b" cx="813" cy="673" r="8"/></g>
<g id="n261"><circle class="b" cx="815" cy="695" r="8"/></g>
<g id="n262"><circle class="b" cx="751" cy="734" r="8"/></g>
<g id="n263"><circle class="b" cx="745" cy="752" r="8"/></g>
<g id="n264"><circle class="b" cx="757" cy="789" r="8"/></g>
<g id="n265"><circle class="b" cx="739" cy="837" r="8"/></g>
<g id="n266"><circle class="b" cx="765" cy="837" r="8"/></g>
<g id="n267"><circle class="b" cx="767" cy="857" r="8"/></g>
<g id="n268"><circle class="b" cx="674" cy="835" r="8"/></g>
<g id="n269"><circle class="b" cx="1338" cy="770" r="8"/></g>
<g id="n270"><circle class="b" cx="1435" cy="780" r="8.5"/></g>
<g id="n271"><circle class="b" cx="1438" cy="797" r="8"/></g>
<g id="n272"><circle class="b" cx="1431" cy="847" r="8"/></g>
<g id="n273"><circle class="b" cx="1310" cy="858" r="8.5"/></g>
<g id="n274"><circle class="b" cx="1424" cy="936" r="8"/></g>
<g id="n275"><circle class="b" cx="1389" cy="983" r="8.5"/></g>
<g id="n276"><circle class="b" cx="1356" cy="890" r="8"/></g>
<g id="n277"><circle class="b" cx="1336" cy="904" r="8"/></g>
<g id="n278"><circle class="b" cx="1360" cy="906" r="8"/></g>
<g id="n279"><circle class="b" cx="1340" cy="928" r="8"/></g>
<g id="n280"><circle class="b" cx="1361" cy="945" r="8"/></g>
<g id="n281"><circle class="b" cx="1312" cy="965" r="8"/></g>
<g id="n282"><circle class="b" cx="1339" cy="965" r="8"/></g>
<g id="n283"><circle class="b" cx="1361" cy="962" r="8"/></g>
<g id="n284"><circle class="b" cx="1355" cy="983" r="8"/></g>
<g id="n285"><circle class="b" cx="1301" cy="987" r="8"/></g>
<g id="n286"><circle class="b" cx="1326" cy="993" r="8"/></g>
<g id="n287"><circle class="b" cx="1349" cy="1000" r="8"/></g>
<g id="n288"><circle class="b" cx="1284" cy="1006" r="8"/></g>
<g id="n289"><circle class="b" cx="1338" cy="1016" r="8"/></g>
<g id="n290"><circle class="b" cx="1269" cy="1024" r="8"/></g>
<g id="n291"><circle class="b" cx="1250" cy="1043" r="8"/></g>
<g id="n292"><circle class="b" cx="1313" cy="1042" r="8"/></g>
<g id="n293"><circle class="b" cx="1237" cy="1061" r="8"/></g>
<g id="n294"><circle class="b" cx="1265" cy="1059" r="8"/></g>
<g id="n295"><circle class="b" cx="1301" cy="1056" r="8"/></g>
<g id="n296"><circle class="b" cx="1224" cy="1076" r="8"/></g>
<g id="n297"><circle class="b" cx="1285" cy="1067" r="8"/></g>
<g id="n298"><circle class="b" cx="1216" cy="1090" r="8"/></g>
<g id="n299"><circle class="b" cx="1234" cy="1092" r="8"/></g>
<g id="n300"><circle class="b" cx="1038" cy="925" r="8"/></g>
<g id="n301"><circle class="b" cx="1124" cy="1016" r="8.5"/></g>
<g id="n302"><circle class="b" cx="1065" cy="1024" r="8"/></g>
<g id="n303"><circle class="b" cx="1051" cy="1045" r="8"/></g>
<g id="n304"><circle class="b" cx="1081" cy="1079" r="8"/></g>
<g id="n305"><circle class="b" cx="1113" cy="1066" r="8"/></g>
<g id="n306"><circle class="b" cx="1079" cy="1107" r="8"/></g>
<g id="n307"><circle class="b" cx="823" cy="977" r="8"/></g>
<g id="n308"><circle class="b" cx="842" cy="984" r="8"/></g>
<g id="n309"><circle class="b" cx="869" cy="979" r="8"/></g>
<g id="n310"><circle class="b" cx="815" cy="1021" r="8"/></g>
<g id="n311"><circle class="b" cx="838" cy="1016" r="8"/></g>
<g id="n312"><circle class="b" cx="838" cy="1035" r="8"/></g>
<g id="n313"><circle class="b" cx="859" cy="1039" r="8"/></g>
<g id="n314"><circle class="b" cx="830" cy="1048" r="8"/></g>
<g id="n315"><circle class="b" cx="849" cy="1067" r="8"/></g>
<g id="n316"><circle class="b" cx="861" cy="1077" r="8"/></g>
<g id="n317"><circle class="b" cx="925" cy="1068" r="8"/></g>
<g id="n318"><circle class="b" cx="947" cy="1101" r="8"/></g>
<g id="n319"><circle class="b" cx="974" cy="1124" r="8"/></g>
<g id="n320"><circle class="b" cx="1007" cy="1089" r="8"/></g>
<g id="n321"><circle class="b" cx="1034" cy="1079" r="8"/></g>
<g id="n322"><circle class="b" cx="1020" cy="1024" r="8"/></g>
<g id="n323"><circle class="b" cx="1042" cy="1024" r="8"/></g>
<g id="n324"><circle class="b" cx="1065" cy="1024" r="8"/></g>
<g id="n325"><circle class="k" cx="324" cy="322" r="8"/></g>
<g id="n326"><circle class="k" cx="127" cy="876" r="8"/></g>
<g id="n327"><circle class="k" cx="1325" cy="165" r="8"/></g>
<g id="n328"><circle class="k" cx="1268" cy="234" r="8"/></g>
<g id="n329"><circle class="k" cx="1226" cy="421" r="8"/></g>
<g id="n330"><circle class="k" cx="999" cy="428" r="8"/></g>
<g id="n331"><circle class="k" cx="752" cy="495" r="8"/></g>
<g id="n332"><circle class="k" cx="844" cy="530" r="8"/></g>
<g id="n333"><circle class="k" cx="867" cy="514" r="8"/></g>
<g id="n334"><circle class="k" cx="887" cy="505" r="8"/></g>
<g id="n335"><circle class="k" cx="909" cy="497" r="8"/></g>
<g id="n336"><circle class="k" cx="845" cy="784" r="8"/></g>
<g id="n337"><circle class="k" cx="911" cy="757" r="8"/></g>
<g id="n338"><circle class="k" cx="931" cy="774" r="8"/></g>
<g id="n339"><circle class="k" cx="959" cy="764" r="8"/></g>
<g id="n340"><circle class="k" cx="966" cy="746" r="8"/></g>
<g id="n341"><circle class="k" cx="901" cy="791" r="8"/></g>
<g id="n342"><circle class="k" cx="911" cy="795" r="8"/></g>
<g id="n343"><circle class="k" cx="901" cy="814" r="8"/></g>
<g id="n344"><circle class="k" cx="948" cy="809" r="8"/></g>
<g id="n345"><circle class="k" cx="971" cy="831" r="8"/></g>
<g id="n346"><circle class="k" cx="1007" cy="746" r="8"/></g>
<g id="n347"><circle class="k" cx="1018" cy="756" r="8"/></g>
<g id="n348"><circle class="k" cx="1034" cy="753" r="8"/></g>
<g id="n349"><circle class="k" cx="1029" cy="721" r="8"/></g>
<g id="n350"><circle class="k" cx="1042" cy="723" r="8"/></g>
<g id="n351"><circle class="k" cx="994" cy="769" r="8"/></g>
<g id="n352"><circle class="k" cx="1010" cy="789" r="8"/></g>
<g id="n353"><circle class="k" cx="1041" cy="830" r="8"/></g>
<g id="n354"><circle class="k" cx="992" cy="874" r="8"/></g>
<g id="n355"><circle class="k" cx="1063" cy="709" r="8"/></g>
<g id="n356"><circle class="k" cx="1080" cy="721" r="8"/></g>
<g id="n357"><circle class="k" cx="1092" cy="718" r="8"/></g>
<g id="n358"><circle class="k" cx="1047" cy="723" r="8"/></g>
<g id="n359"><circle class="k" cx="1069" cy="741" r="8"/></g>
<g id="n360"><circle class="k" cx="1100" cy="741" r="8"/></g>
<g id="n361"><circle class="k" cx="1115" cy="749" r="8"/></g>
<g id="n362"><circle class="k" cx="1140" cy="757" r="8"/></g>
<g id="n363"><circle class="k" cx="1166" cy="747" r="8"/></g>
<g id="n364"><circle class="k" cx="1166" cy="767" r="8"/></g>
<g id="n365"><circle class="k" cx="1049" cy="748" r="8"/></g>
<g id="n366"><circle class="k" cx="1073" cy="759" r="8"/></g>
<g id="n367"><circle class="k" cx="1055" cy="774" r="8"/></g>
<g id="n368"><circle class="k" cx="1099" cy="774" r="8"/></g>
<g id="n369"><circle class="k" cx="1126" cy="773" r="8"/></g>
<g id="n370"><circle class="k" cx="1074" cy="783" r="8"/></g>
<g id="n371"><circle class="k" cx="1131" cy="786" r="8"/></g>
<g id="n372"><circle class="k" cx="1164" cy="789" r="8"/></g>
<g id="n373"><circle class="k" cx="1103" cy="795" r="8"/></g>
<g id="n374"><circle class="k" cx="1134" cy="801" r="8"/></g>
<g id="n375"><circle class="k" cx="1189" cy="784" r="8"/></g>
<g id="n376"><circle class="k" cx="1188" cy="802" r="8"/></g>
<g id="n377"><circle class="k" cx="1213" cy="803" r="8"/></g>
<g id="n378"><circle class="k" cx="1215" cy="820" r="8"/></g>
<g id="n379"><circle class="k" cx="1171" cy="820" r="8"/></g>
<g id="n380"><circle class="k" cx="1192" cy="824" r="8"/></g>
<g id="n381"><circle class="k" cx="1230" cy="837" r="8"/></g>
<g id="n382"><circle class="k" cx="1140" cy="830" r="8"/></g>
<g id="n383"><circle class="k" cx="1175" cy="840" r="8"/></g>
<g id="n384"><circle class="k" cx="1192" cy="839" r="8"/></g>
<g id="n385"><circle class="k" cx="1147" cy="854" r="8"/></g>
<g id="n386"><circle class="k" cx="1154" cy="865" r="8"/></g>
<g id="n387"><circle class="k" cx="1180" cy="854" r="8"/></g>
<g id="n388"><circle class="k" cx="1210" cy="861" r="8"/></g>
<g id="n389"><circle class="k" cx="1232" cy="859" r="8"/></g>
<g id="n390"><circle class="k" cx="1198" cy="871" r="8"/></g>
<g id="n391"><circle class="k" cx="1178" cy="879" r="8"/></g>
<g id="n392"><circle class="k" cx="1208" cy="884" r="8"/></g>
<g id="n393"><circle class="k" cx="1220" cy="880" r="8"/></g>
<g id="n394"><circle class="k" cx="1182" cy="895" r="8"/></g>
<g id="n395"><circle class="k" cx="1157" cy="892" r="8"/></g>
<g id="n396"><circle class="k" cx="1137" cy="883" r="8"/></g>
<g id="n397"><circle class="k" cx="1056" cy="869" r="8"/></g>
<g id="n398"><circle class="k" cx="1083" cy="874" r="8"/></g>
<g id="n399"><circle class="k" cx="1089" cy="883" r="8"/></g>
<g id="n400"><circle class="k" cx="1105" cy="864" r="8"/></g>
<g id="n401"><circle class="k" cx="1077" cy="905" r="8"/></g>
<g id="n402"><circle class="k" cx="1133" cy="902" r="8"/></g>
<g id="n403"><circle class="k" cx="1148" cy="907" r="8"/></g>
<g id="n404"><circle class="k" cx="1167" cy="904" r="8"/></g>
<g id="n405"><circle class="k" cx="1062" cy="918" r="8"/></g>
<g id="n406"><circle class="k" cx="1192" cy="936" r="8"/></g>
<g id="n407"><circle class="k" cx="1254" cy="967" r="8"/></g>
<g id="n408"><circle class="k" cx="984" cy="972" r="8"/></g>
</g>
</g>
</svg>
